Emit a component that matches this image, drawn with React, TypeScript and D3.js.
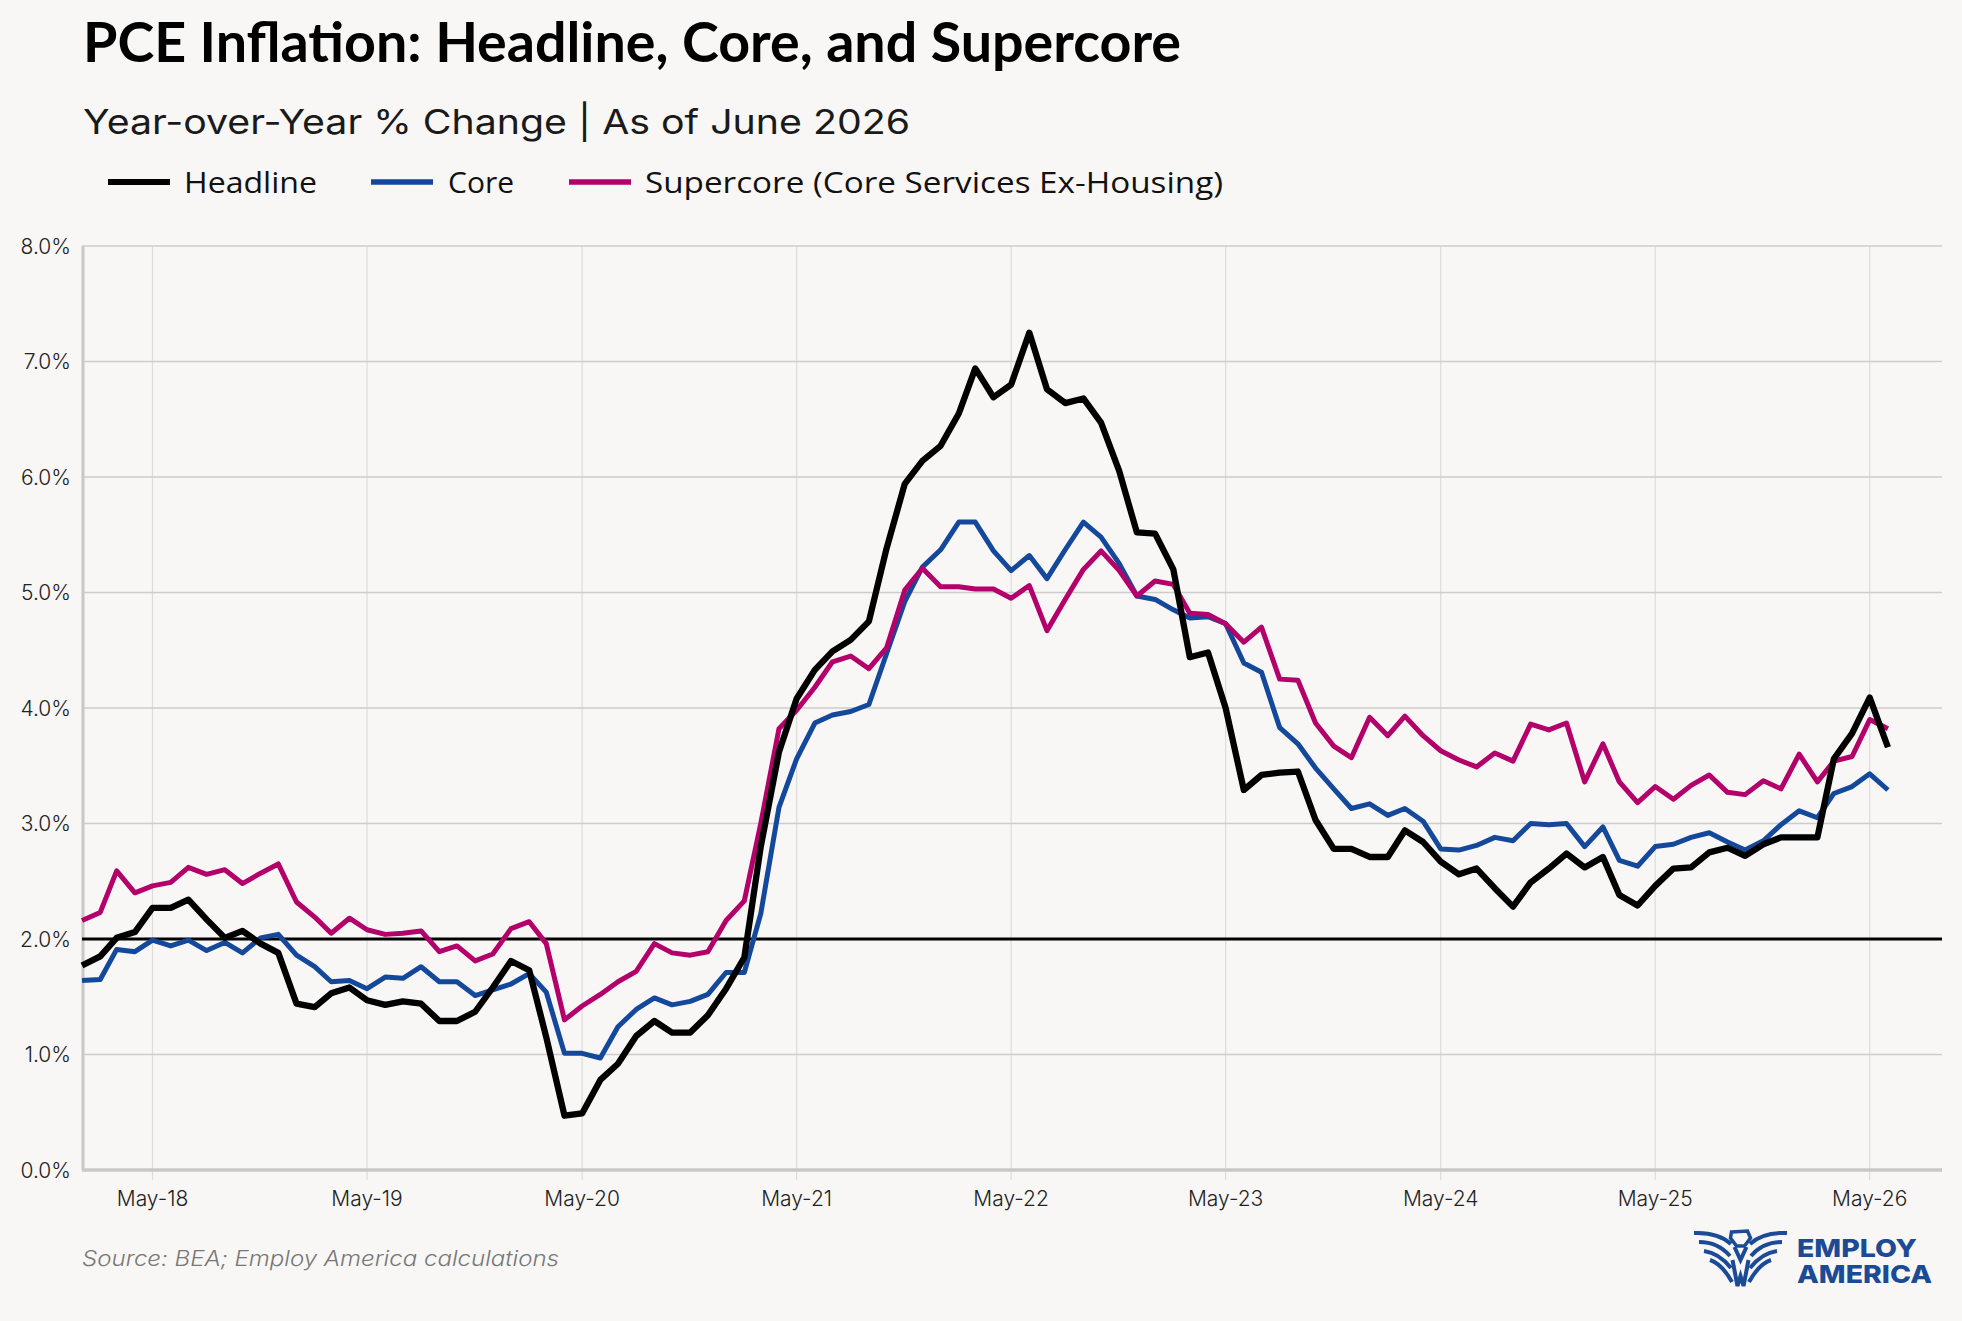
import React, { useLayoutEffect } from "react";
import * as d3 from "d3";

// ---- Data (YoY % change, monthly Jan-2018 .. Jun-2026) ----
const startYear = 2018;
const startMonth = 0; // January

const headline = [
  1.77, 1.85, 2.01, 2.06, 2.27, 2.27, 2.34, 2.17, 2.01, 2.07, 1.96, 1.88,
  1.44, 1.41, 1.53, 1.58, 1.47, 1.43, 1.46, 1.44, 1.29, 1.29, 1.37, 1.58,
  1.81, 1.73, 1.15, 0.47, 0.49, 0.78, 0.92, 1.16, 1.29, 1.19, 1.19, 1.34,
  1.57, 1.84, 2.8, 3.62, 4.08, 4.33, 4.49, 4.59, 4.75, 5.38, 5.94, 6.14,
  6.27, 6.55, 6.94, 6.69, 6.8, 7.25, 6.76, 6.64, 6.68, 6.47, 6.05, 5.52,
  5.51, 5.2, 4.44, 4.48, 4.0, 3.29, 3.42, 3.44, 3.45, 3.03, 2.78, 2.78,
  2.71, 2.71, 2.94, 2.84, 2.67, 2.56, 2.61, 2.44, 2.28, 2.49, 2.61, 2.74,
  2.62, 2.71, 2.38, 2.29, 2.46, 2.61, 2.62, 2.75, 2.79, 2.72, 2.82, 2.88,
  2.88, 2.88, 3.56, 3.78, 4.09, 3.66,
];

const core = [
  1.64, 1.65, 1.91, 1.89, 1.99, 1.94, 1.99, 1.9, 1.97, 1.88, 2.01, 2.04,
  1.86, 1.76, 1.63, 1.64, 1.57, 1.67, 1.66, 1.76, 1.63, 1.63, 1.51, 1.56,
  1.61, 1.7, 1.54, 1.01, 1.01, 0.97, 1.24, 1.39, 1.49, 1.43, 1.46, 1.52,
  1.71, 1.71, 2.22, 3.14, 3.56, 3.87, 3.94, 3.97, 4.03, 4.47, 4.92, 5.22,
  5.37, 5.61, 5.61, 5.36, 5.19, 5.32, 5.12, 5.37, 5.61, 5.48, 5.25, 4.97,
  4.94, 4.85, 4.78, 4.79, 4.73, 4.39, 4.31, 3.83, 3.69, 3.48, 3.3, 3.13,
  3.17, 3.07, 3.13, 3.02, 2.78, 2.77, 2.81, 2.88, 2.85, 3.0, 2.99, 3.0,
  2.8, 2.97, 2.68, 2.63, 2.8, 2.82, 2.88, 2.92, 2.84, 2.77, 2.85, 2.99,
  3.11, 3.05, 3.26, 3.32, 3.43, 3.29,
];

const supercore = [
  2.16, 2.23, 2.59, 2.4, 2.46, 2.49, 2.62, 2.56, 2.6, 2.48, 2.57, 2.65,
  2.32, 2.19, 2.05, 2.18, 2.08, 2.04, 2.05, 2.07, 1.89, 1.94, 1.81, 1.87,
  2.09, 2.15, 1.96, 1.3, 1.42, 1.52, 1.63, 1.72, 1.96, 1.88, 1.86, 1.89,
  2.16, 2.33, 3.0, 3.82, 3.98, 4.18, 4.4, 4.45, 4.34, 4.52, 5.02, 5.21,
  5.05, 5.05, 5.03, 5.03, 4.95, 5.06, 4.67, 4.94, 5.2, 5.36, 5.19, 4.97,
  5.1, 5.07, 4.82, 4.81, 4.73, 4.57, 4.7, 4.25, 4.24, 3.87, 3.67, 3.57,
  3.92, 3.76, 3.93, 3.76, 3.63, 3.55, 3.49, 3.61, 3.54, 3.86, 3.81, 3.87,
  3.36, 3.69, 3.36, 3.18, 3.32, 3.21, 3.33, 3.42, 3.27, 3.25, 3.37, 3.3,
  3.6, 3.36, 3.54, 3.58, 3.9, 3.82,
];

const yTicks = [0, 1, 2, 3, 4, 5, 6, 7, 8];
const tickYears = [2018, 2019, 2020, 2021, 2022, 2023, 2024, 2025, 2026];
const targetRate = 2.0;

const titleText = "PCE Inflation: Headline, Core, and Supercore";
const subtitleText = "Year-over-Year % Change | As of June 2026";
const sourceText = "Source: BEA; Employ America calculations";
const legendLabels = ["Headline", "Core", "Supercore (Core Services Ex-Housing)"];
const logoLines = ["EMPLOY", "AMERICA"];

// ---- Layout / style ----
const W = 1962;
const H = 1321;
const plot = { left: 82, right: 1942, top: 246, bottom: 1170 };
const BG = "#f8f7f5";
const COLORS = { headline: "#000000", core: "#14489a", supercore: "#b3006b" };
const tickFont = "Inter, 'DejaVu Sans', sans-serif";

const dates = headline.map((_, i) => new Date(startYear, startMonth + i, 1));

const x = d3
  .scaleTime()
  .domain([new Date(2018, 0, 1), new Date(2026, 8, 1)])
  .range([plot.left, plot.right]);
const y = d3.scaleLinear().domain([0, 8]).range([plot.bottom, plot.top]);

const lineGen = d3
  .line<number>()
  .x((_, i) => x(dates[i]))
  .y((v) => y(v));

const fmtTick = d3.timeFormat("%b-%y");
const tickDates = tickYears.map((yr) => new Date(yr, 4, 1));

function Logo({ x0, y0 }: { x0: number; y0: number }) {
  const blue = "#1b4a96";
  const cx = 46.5;
  const left = [
    "M0,3 Q24,2 37,14",
    "M5,12 Q24,12 36,26",
    "M10,21 Q25,23 37,38",
    "M16,30 Q28,34 38,52",
  ];
  return (
    <g transform={`translate(${x0},${y0})`}>
      <g fill="none" stroke={blue} strokeWidth={4} strokeLinecap="butt">
        {left.map((d, i) => (
          <path key={"l" + i} d={d} />
        ))}
        {left.map((d, i) => (
          <path key={"r" + i} d={d} transform={`translate(${cx * 2},0) scale(-1,1)`} />
        ))}
        <path d={`M${cx - 8},30 L${cx - 3},56 L${cx},46 L${cx + 3},56 L${cx + 8},30`} />
        <path d={`M${cx - 6},17 L${cx},30 L${cx + 6},17`} />
      </g>
      <path
        d={`M${cx - 9},2 L${cx + 7},1 L${cx + 10},8 L${cx + 4},16 L${cx - 4},16 L${cx - 10},8 Z`}
        fill="none"
        stroke={blue}
        strokeWidth={3.5}
      />
      <text
        x={103}
        y={26.5}
        fill={blue}
        fontFamily="Inter, Roboto, sans-serif"
        fontWeight={800}
        fontSize={25}
        textLength={120}
        lengthAdjust="spacingAndGlyphs"
      >
        {logoLines[0]}
      </text>
      <text
        x={103}
        y={53}
        fill={blue}
        fontFamily="Inter, Roboto, sans-serif"
        fontWeight={800}
        fontSize={25}
        textLength={135}
        lengthAdjust="spacingAndGlyphs"
      >
        {logoLines[1]}
      </text>
    </g>
  );
}

export default function App() {
  useLayoutEffect(() => {
    document.body.style.margin = "0";
    document.body.style.background = BG;
  }, []);

  const legendItems = [
    { label: legendLabels[0], color: COLORS.headline, sx: 108, tx: 184, tl: 133, sw: 6 },
    { label: legendLabels[1], color: COLORS.core, sx: 371, tx: 448, tl: 66, sw: 5.5 },
    { label: legendLabels[2], color: COLORS.supercore, sx: 569, tx: 645, tl: 578, sw: 5.5 },
  ];

  return (
    <svg
      width={W}
      height={H}
      viewBox={`0 0 ${W} ${H}`}
      style={{ display: "block", position: "absolute", left: 0, top: 0 }}
    >
      <rect x={0} y={0} width={W} height={H} fill={BG} />

      {/* Title & subtitle */}
      <text
        x={83}
        y={62}
        fontFamily="Lato, 'Open Sans', sans-serif"
        fontWeight={700}
        fontSize={55}
        fill="#000"
        textLength={1098}
        lengthAdjust="spacingAndGlyphs"
      >
        {titleText}
      </text>
      <text
        x={83}
        y={134}
        fontFamily={tickFont}
        fontWeight={400}
        fontSize={34}
        fill="#1a1a1a"
        textLength={827}
        lengthAdjust="spacingAndGlyphs"
      >
        {subtitleText}
      </text>

      {/* Legend */}
      {legendItems.map((it) => (
        <g key={it.label}>
          <line x1={it.sx} x2={it.sx + 62} y1={182} y2={182} stroke={it.color} strokeWidth={it.sw} />
          <text
            x={it.tx}
            y={193}
            fontFamily="'Open Sans', 'Noto Sans', sans-serif"
            fontSize={29}
            fill="#111"
            textLength={it.tl}
            lengthAdjust="spacingAndGlyphs"
          >
            {it.label}
          </text>
        </g>
      ))}

      {/* Grid */}
      {tickDates.map((d) => (
        <line
          key={"vg" + d.getFullYear()}
          x1={x(d)}
          x2={x(d)}
          y1={plot.top}
          y2={plot.bottom + 10}
          stroke="#dcdcdc"
          strokeWidth={1.2}
        />
      ))}
      {yTicks.map((t) => (
        <line
          key={"hg" + t}
          x1={plot.left}
          x2={plot.right}
          y1={y(t)}
          y2={y(t)}
          stroke="#cccccc"
          strokeWidth={1.3}
        />
      ))}

      {/* Axes */}
      <line x1={plot.left + 1} x2={plot.left + 1} y1={plot.top} y2={plot.bottom} stroke="#c8c8c8" strokeWidth={3} />
      <line x1={plot.left} x2={plot.right} y1={plot.bottom} y2={plot.bottom} stroke="#c8c8c8" strokeWidth={3.5} />

      {yTicks.map((t) => (
        <text
          key={"yl" + t}
          x={71}
          y={y(t)}
          textAnchor="end"
          dominantBaseline="central"
          fontFamily={tickFont}
          fontWeight={300}
          fontSize={21}
          fill="#222"
        >
          {d3.format(".1f")(t) + "%"}
        </text>
      ))}
      {tickDates.map((d) => (
        <text
          key={"xl" + d.getFullYear()}
          x={x(d)}
          y={1206}
          textAnchor="middle"
          fontFamily={tickFont}
          fontWeight={300}
          fontSize={21}
          fill="#222"
        >
          {fmtTick(d)}
        </text>
      ))}

      {/* 2% target */}
      <line
        x1={plot.left}
        x2={plot.right}
        y1={y(targetRate)}
        y2={y(targetRate)}
        stroke="#000"
        strokeWidth={3}
      />

      {/* Series */}
      <path d={lineGen(core) || ""} fill="none" stroke={COLORS.core} strokeWidth={5} strokeLinejoin="round" />
      <path d={lineGen(supercore) || ""} fill="none" stroke={COLORS.supercore} strokeWidth={5} strokeLinejoin="round" />
      <path d={lineGen(headline) || ""} fill="none" stroke={COLORS.headline} strokeWidth={6.3} strokeLinejoin="round" />

      {/* Source */}
      <text
        x={82}
        y={1266}
        fontFamily={tickFont}
        fontStyle="italic"
        fontWeight={300}
        fontSize={21}
        fill="#777"
        textLength={477}
        lengthAdjust="spacingAndGlyphs"
      >
        {sourceText}
      </text>

      <Logo x0={1694} y0={1230} />
    </svg>
  );
}
